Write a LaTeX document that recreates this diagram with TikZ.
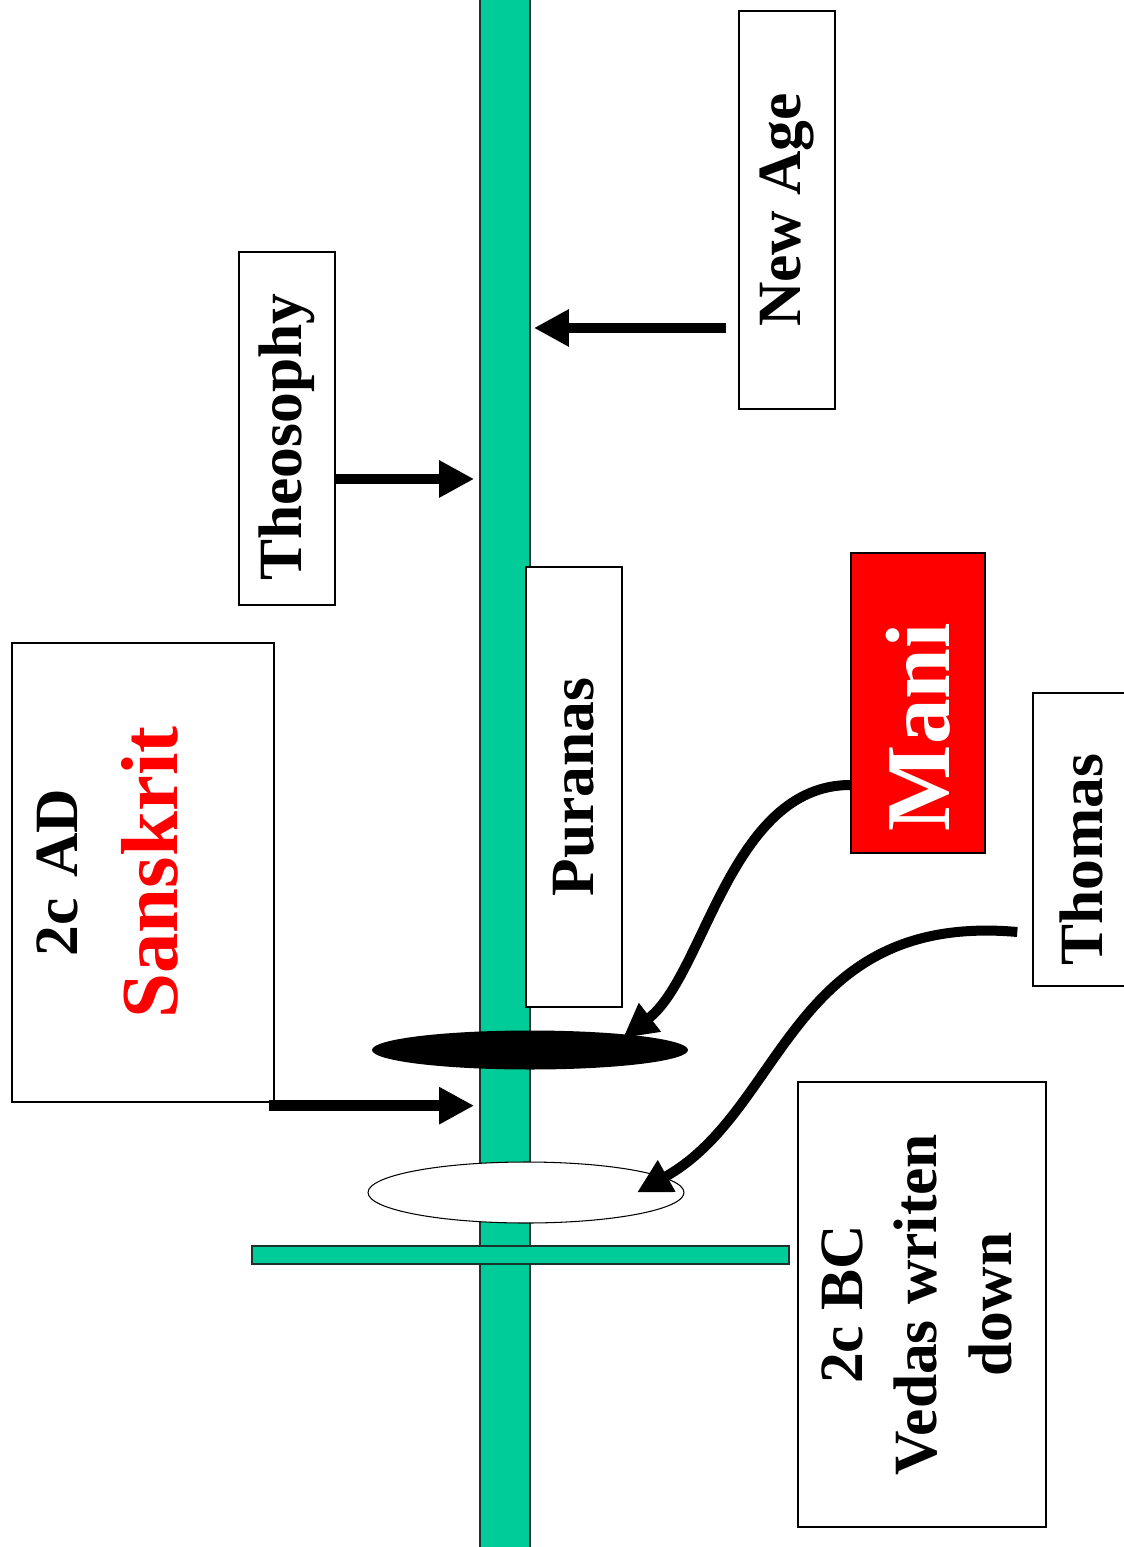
\documentclass[tikz,border=0pt]{standalone}
\usepackage{fontspec}
\setmainfont{Liberation Serif}
\usepackage{graphicx}
\usetikzlibrary{positioning,arrows.meta,shapes.geometric,calc}
\definecolor{verdeeje}{RGB}{0,204,153}
\definecolor{bordeeje}{RGB}{30,50,45}
\definecolor{rojo}{RGB}{255,0,0}

\begin{document}
\begin{tikzpicture}[x=0.02cm, y=-0.02cm,
  caja/.style={draw=black, line width=0.8pt, fill=white, inner sep=0pt,
    font=\bfseries\fontsize{35}{42.5}\selectfont},
  barra/.style={draw=bordeeje, line width=1pt, fill=verdeeje, inner sep=0pt},
  flecha/.style={line width=0.21cm, -{Triangle[length=0.7cm, width=0.7cm]}},
  curva/.style={line width=0.2cm, -{Triangle[length=0.68cm, width=0.68cm]}},
]
  \path[use as bounding box, fill=white] (0,0) rectangle (1124,1547);
  % Linea de tiempo
  \node[barra, minimum width=1cm, minimum height=31.4cm] (eje) at (505,775) {};
  % Elipses sobre el eje
  \node[ellipse, fill=black, inner sep=0pt, minimum width=6.32cm,
    minimum height=0.78cm] (negra) at (530,1050) {};
  \node[ellipse, draw=black, line width=0.6pt, fill=white, inner sep=0pt,
    minimum width=6.32cm, minimum height=1.22cm] (blanca) at (526,1192.5) {};
  \node[barra, minimum width=10.74cm, minimum height=0.36cm] (cruz) at (520.5,1255) {};
  % Cajas
  \node[caja, minimum width=5.24cm, minimum height=9.18cm, text width=4.7cm,
    inner xsep=0.27cm, align=left] (sans) at (143,872.5)
    {\rotatebox{90}{\begin{tabular}{@{}c@{}}2c AD\\[12pt]
     \fontsize{46}{56}\selectfont\color{rojo}Sanskrit\end{tabular}}};
  \node[caja, minimum width=1.92cm, minimum height=7.06cm] (teo) at (287,428.5)
    {\rotatebox{90}{Theosophy\hspace{0.34cm}}};
  \node[caja, minimum width=1.92cm, minimum height=7.96cm] (nueva) at (787,210)
    {\rotatebox{90}{New Age}};
  \node[caja, minimum width=1.92cm, minimum height=8.8cm] (puranas) at (574,787)
    {\rotatebox{90}{Puranas}};
  \node[caja, fill=rojo, text=white, minimum width=2.68cm, minimum height=6cm,
    font=\bfseries\fontsize{52}{60}\selectfont] (mani) at (918,703)
    {\rotatebox{90}{Mani\hspace{0.96cm}}};
  \node[caja, minimum width=1.92cm, minimum height=5.86cm] (tomas) at (1081,839.5)
    {\rotatebox{90}{Thomas\hspace{0.8cm}}};
  \node[caja, minimum width=4.96cm, minimum height=8.9cm] (vedas) at (922,1304.5)
    {\rotatebox{90}{\begin{tabular}{@{}c@{}}2c BC\\ Vedas writen\\ down\end{tabular}}};
  % Flechas rectas
  \coordinate (s1) at ([xshift=-0.12cm, yshift=-0.06cm]sans.south east);
  \draw[flecha, shorten >=0.1cm] (s1) -- (s1 -| eje.west);
  \coordinate (t1) at ([yshift=-1.01cm]teo.east);
  \draw[flecha, shorten >=0.1cm] (t1) -- (t1 -| eje.west);
  \coordinate (n1) at ([xshift=-0.24cm, yshift=-2.36cm]nueva.west);
  \draw[flecha, shorten >=0.06cm] (n1) -- (n1 -| eje.east);
  % Flechas curvas
  \coordinate (m1) at ([yshift=-1.64cm]mani.west);
  \coordinate (m2) at ([xshift=1.86cm, yshift=0.24cm]negra.center);
  \draw[curva] (m1) .. controls (730,785) and (705,975) .. (m2);
  \coordinate (c1) at ([xshift=-0.3cm, yshift=-1.85cm]tomas.west);
  \coordinate (c2) at ([xshift=2.22cm]blanca.center);
  \draw[curva] (c1) .. controls (790,912) and (785,1110) .. (c2);
\end{tikzpicture}
\end{document}
